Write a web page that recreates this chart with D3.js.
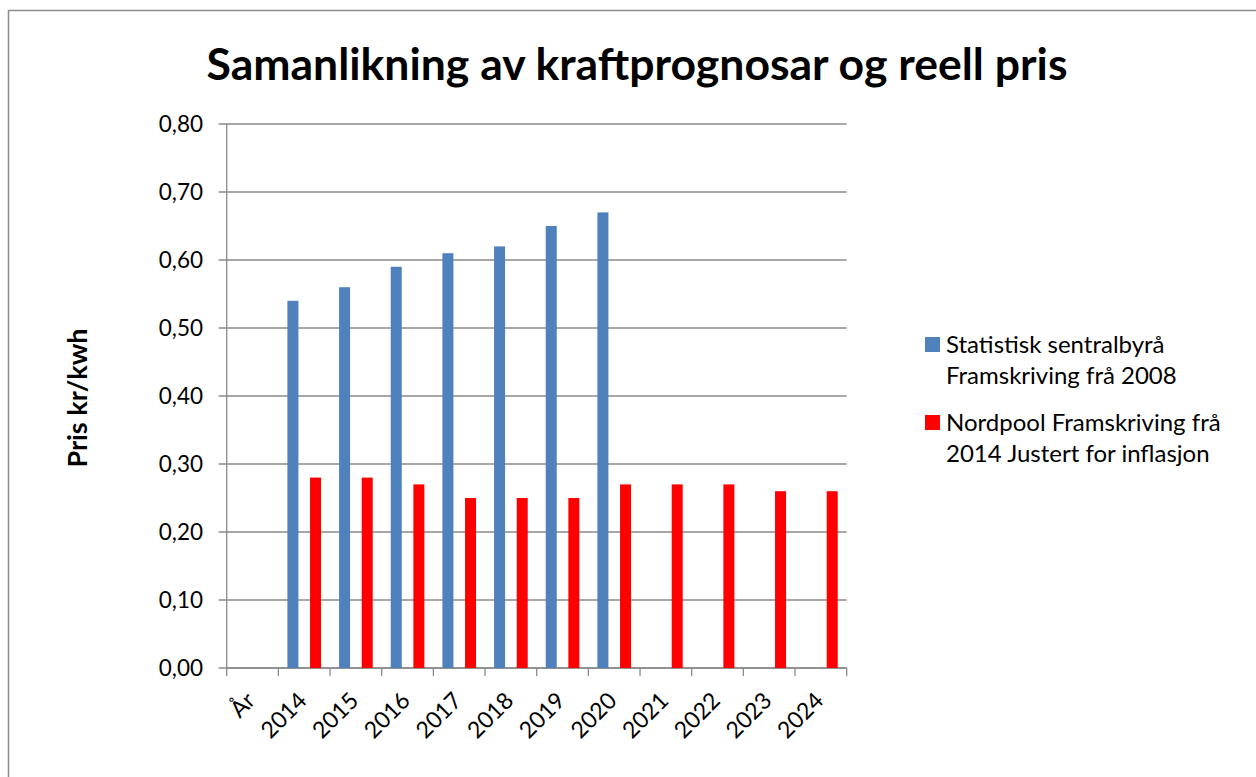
<!DOCTYPE html>
<html>
<head>
<meta charset="utf-8">
<script src="https://cdn.jsdelivr.net/npm/d3@7"></script>
<style>
  body { margin: 0; background: #fff; }
  svg { display: block; }
</style>
</head>
<body>
<div id="chart"></div>
<script>
// ── Data ────────────────────────────────────────────────────────────────
const categories = ['År', '2014', '2015', '2016', '2017', '2018', '2019', '2020', '2021', '2022', '2023', '2024'];
const ssbValues  = [null, 0.54, 0.56, 0.59, 0.61, 0.62, 0.65, 0.67, null, null, null, null];
const nordValues = [null, 0.28, 0.28, 0.27, 0.25, 0.25, 0.25, 0.27, 0.27, 0.27, 0.26, 0.26];
const yTicks     = [0, 0.1, 0.2, 0.3, 0.4, 0.5, 0.6, 0.7, 0.8];
const seriesNames = [
  ['Statistisk sentralbyrå', 'Framskriving frå 2008'],
  ['Nordpool Framskriving frå', '2014 Justert for inflasjon']
];
const seriesColors = ['#4F81BD', '#FF0000'];

// ── Layout ──────────────────────────────────────────────────────────────
const W = 1256, H = 777;
const FONT = 'Lato, "Open Sans", sans-serif';
const plotL = 226.7, plotR = 846.7, plotT = 124, plotB = 668;

const svg = d3.select('#chart').append('svg').attr('width', W).attr('height', H);

// outer chart border (right/bottom edges fall outside the picture)
svg.append('rect')
  .attr('x', 8.5).attr('y', 10.5).attr('width', W + 20).attr('height', H + 20)
  .attr('fill', 'none').attr('stroke', '#8c8c8c').attr('stroke-width', 1.5);

const x = d3.scaleBand().domain(categories).range([plotL, plotR]).padding(0);
const y = d3.scaleLinear().domain([0, 0.8]).range([plotB, plotT]);
const fmt = v => d3.format('.2f')(v).replace('.', ',');

// gridlines (extend left as tick marks)
svg.append('g').selectAll('line').data(yTicks).enter().append('line')
  .attr('x1', plotL - 8).attr('x2', plotR)
  .attr('y1', d => y(d)).attr('y2', d => y(d))
  .attr('stroke', '#8a8a8a').attr('stroke-width', 1.3);

// y axis line
svg.append('line')
  .attr('x1', plotL).attr('x2', plotL).attr('y1', plotT).attr('y2', plotB)
  .attr('stroke', '#8a8a8a').attr('stroke-width', 1.3);

// y tick labels
svg.append('g').selectAll('text').data(yTicks).enter().append('text')
  .attr('x', 203).attr('y', d => y(d)).attr('dy', '0.36em')
  .attr('text-anchor', 'end').attr('font-family', FONT).attr('font-size', 22.5)
  .attr('fill', '#000').text(fmt);

// x axis with ticks at category boundaries
const xAxisG = svg.append('g');
xAxisG.append('line')
  .attr('x1', plotL).attr('x2', plotR).attr('y1', plotB).attr('y2', plotB)
  .attr('stroke', '#8a8a8a').attr('stroke-width', 1.3);
xAxisG.selectAll('line.tick').data(d3.range(categories.length + 1)).enter().append('line')
  .attr('class', 'tick')
  .attr('x1', i => plotL + i * x.bandwidth()).attr('x2', i => plotL + i * x.bandwidth())
  .attr('y1', plotB).attr('y2', plotB + 8)
  .attr('stroke', '#8a8a8a').attr('stroke-width', 1.3);

// x tick labels, rotated
xAxisG.selectAll('text').data(categories).enter().append('text')
  .attr('transform', d => `translate(${x(d) + x.bandwidth() / 2 + 4},${plotB + 34}) rotate(-45)`)
  .attr('text-anchor', 'end').attr('font-family', FONT).attr('font-size', 23)
  .attr('fill', '#000').text(d => d);

// bars
const bw = x.bandwidth();
const barW = bw * 0.213;
const offsets = [bw * 0.175, bw * 0.613];
[ssbValues, nordValues].forEach((vals, si) => {
  svg.append('g').selectAll('rect')
    .data(categories.map((c, i) => ({ c, v: vals[i] })).filter(d => d.v !== null))
    .enter().append('rect')
    .attr('x', d => x(d.c) + offsets[si])
    .attr('y', d => y(d.v))
    .attr('width', barW)
    .attr('height', d => y(0) - y(d.v))
    .attr('fill', seriesColors[si]);
});

// title
svg.append('text')
  .attr('x', 637).attr('y', 80)
  .attr('text-anchor', 'middle').attr('font-family', FONT)
  .attr('font-weight', 'bold').attr('font-size', 44.5)
  .text('Samanlikning av kraftprognosar og reell pris');

// y axis title
svg.append('text')
  .attr('transform', `translate(87,${(plotT + plotB) / 2 + 2}) rotate(-90)`)
  .attr('text-anchor', 'middle').attr('font-family', FONT)
  .attr('font-weight', 'bold').attr('font-size', 27)
  .text('Pris kr/kwh');

// legend
const legendTop = [337, 415];
seriesNames.forEach((lines, si) => {
  const g = svg.append('g');
  g.append('rect')
    .attr('x', 925).attr('y', legendTop[si]).attr('width', 15).attr('height', 15)
    .attr('fill', seriesColors[si]);
  lines.forEach((t, li) => {
    g.append('text')
      .attr('x', 946).attr('y', legendTop[si] + 16 + li * 31)
      .attr('font-family', FONT).attr('font-size', 24).text(t);
  });
});
</script>
</body>
</html>
